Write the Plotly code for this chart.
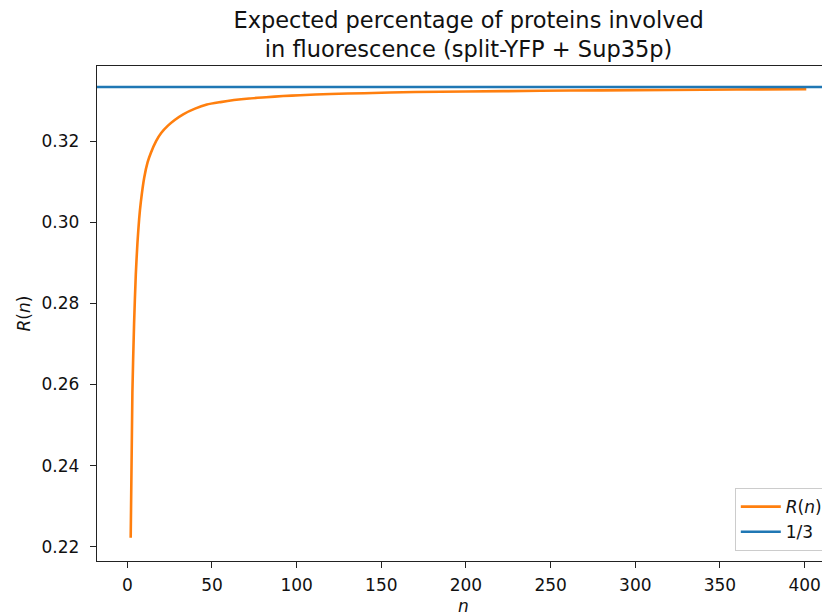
import plotly.graph_objects as go

# Data
n_values = [2, 3, 4, 5, 6, 7, 8, 10, 12, 14, 17, 20, 24, 28, 33, 40, 47, 55, 63,
            72, 82, 92, 102, 120, 140, 170, 200, 244, 280, 320, 360, 401]
r_values = [0.2222, 0.2580, 0.2750, 0.2870, 0.2950, 0.3008, 0.3050, 0.3110,
            0.3148, 0.3172, 0.3200, 0.3220, 0.3238, 0.3252, 0.3266, 0.3280,
            0.3290, 0.3296, 0.3301, 0.3305, 0.3308, 0.3311, 0.3313, 0.3316,
            0.3318, 0.3321, 0.3322, 0.3324, 0.3325, 0.3326, 0.3327, 0.3328]
limit_value = 1 / 3
x_ticks = [0, 50, 100, 150, 200, 250, 300, 350, 400]
y_ticks = [0.22, 0.24, 0.26, 0.28, 0.30, 0.32]

FONT = "DejaVu Sans"
ORANGE = "#ff7f0e"
BLUE = "#1f77b4"

fig = go.Figure()
fig.add_trace(go.Scatter(
    x=n_values, y=r_values, mode="lines", name="<i>R</i>(<i>n</i>)",
    line=dict(color=ORANGE, width=2.6, shape="spline", smoothing=0.6),
))
fig.add_trace(go.Scatter(
    x=[None], y=[None], mode="lines", name="1/3",
    line=dict(color=BLUE, width=2.6),
))
fig.add_hline(y=limit_value, line=dict(color=BLUE, width=2.6), layer="above")

axis_common = dict(
    showline=True, linecolor="#222222", linewidth=1.4,
    ticks="outside", ticklen=6, tickwidth=1.4, tickcolor="#222222",
    showgrid=False, zeroline=False,
    tickfont=dict(family=FONT, size=17, color="#111111"),
)

# The page body adds an 8px margin, so the figure is sized to fit the window.
fig.update_layout(
    width=822, height=608,
    margin=dict(l=89, r=0, t=58, b=55),
    paper_bgcolor="white", plot_bgcolor="white",
    font=dict(family=FONT, color="#111111"),
    title=dict(
        text="Expected percentage of proteins involved<br>in fluorescence (split-YFP + Sup35p)",
        font=dict(family=FONT, size=22.5, color="#111111"),
        x=0.507, xref="paper", xanchor="center",
        y=1 - 20 / 608, yref="container", yanchor="middle",
    ),
    xaxis=dict(
        **axis_common, mirror=True, range=[-17.9, 415.0],
        tickvals=x_ticks, ticktext=[str(v) for v in x_ticks],
        ticklabelstandoff=2,
        title=dict(text="<i>n</i>", font=dict(family=FONT, size=17), standoff=8),
    ),
    yaxis=dict(
        **axis_common, mirror=False, range=[0.21648, 0.3385],
        tickvals=y_ticks, ticktext=[f"{v:.2f}" for v in y_ticks],
        ticklabelstandoff=7,
        title=dict(text="<i>R</i>(<i>n</i>)", font=dict(family=FONT, size=17), standoff=6),
    ),
    legend=dict(
        x=0.997, xanchor="right", y=0.02, yanchor="bottom",
        bgcolor="rgba(255,255,255,0.85)", bordercolor="#cccccc", borderwidth=1,
        font=dict(family=FONT, size=17, color="#111111"),
        itemwidth=40, entrywidth=100, tracegroupgap=2,
    ),
    showlegend=True,
)

fig.write_html("out.html")
